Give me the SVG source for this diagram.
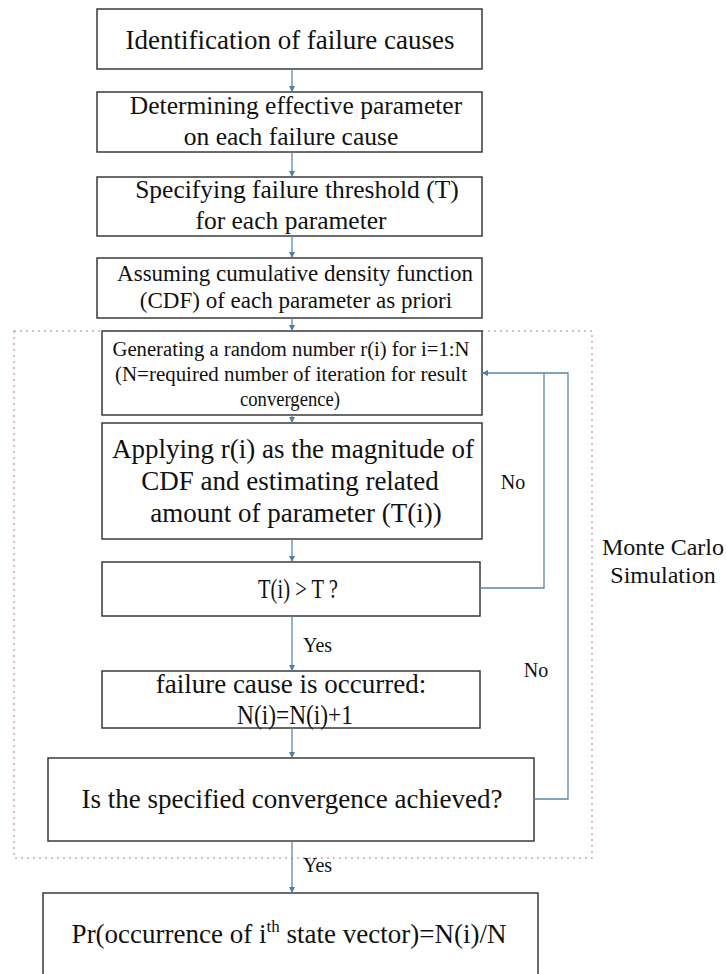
<svg xmlns="http://www.w3.org/2000/svg" width="726" height="974" viewBox="0 0 726 974" font-family="'Liberation Serif', Tinos, 'Times New Roman', serif">
<style>
.box{fill:#fff;stroke:#3a3a3a;stroke-width:1.5}
.t{font-family:'Liberation Serif', Tinos, 'Times New Roman', serif;fill:#111;text-anchor:middle}
.conn{fill:none;stroke:#5b87a8;stroke-width:1.3}
.lbl{font-family:'Liberation Serif', Tinos, 'Times New Roman', serif;fill:#111;font-size:20px}
</style>
<defs>
<marker id="ah" viewBox="0 0 10 10" refX="10" refY="5" markerWidth="6" markerHeight="6" markerUnits="userSpaceOnUse" orient="auto">
<path d="M0,0 L10,5 L0,10 z" fill="#4f7fa3"/>
</marker>
</defs>
<rect width="726" height="974" fill="#fff"/>
<rect id="mc-frame" x="14" y="331" width="578" height="527" fill="none" stroke="#d3a6ae" stroke-width="1.5" stroke-dasharray="2,4"/>
<g id="n1"><rect class="box" x="97" y="9" width="385" height="60"/><text class="t" x="290" y="49" font-size="27">Identification of failure causes</text></g>
<g id="n2"><rect class="box" x="97" y="92" width="385" height="60"/><text class="t" x="296" y="114" font-size="25.5">Determining effective parameter</text><text class="t" x="291" y="145" font-size="25.5">on each failure cause</text></g>
<g id="n3"><rect class="box" x="97" y="177" width="385" height="59"/><text class="t" x="297" y="198" font-size="25.5">Specifying failure threshold (T)</text><text class="t" x="291" y="229" font-size="25.5">for each parameter</text></g>
<g id="n4"><rect class="box" x="97" y="258" width="385" height="60"/><text class="t" x="295" y="281" font-size="23">Assuming cumulative density function</text><text class="t" x="296" y="308" font-size="23">(CDF) of each parameter as priori</text></g>
<g id="n5"><rect class="box" x="102" y="331" width="380" height="84"/><text class="t" x="291" y="356" font-size="20" textLength="357" lengthAdjust="spacingAndGlyphs">Generating a random number r(i) for i=1:N</text><text class="t" x="291" y="381" font-size="20" textLength="352" lengthAdjust="spacingAndGlyphs">(N=required number of iteration for result</text><text class="t" x="290" y="406" font-size="20" textLength="100" lengthAdjust="spacingAndGlyphs">convergence)</text></g>
<g id="n6"><rect class="box" x="102" y="423" width="380" height="116"/><text class="t" x="293" y="458" font-size="27" textLength="362" lengthAdjust="spacingAndGlyphs">Applying r(i) as the magnitude of</text><text class="t" x="290" y="490" font-size="27">CDF and estimating related</text><text class="t" x="296" y="522" font-size="27">amount of parameter (T(i))</text></g>
<g id="n7"><rect class="box" x="102" y="562" width="378" height="54"/><text class="t" x="298" y="598" font-size="27" textLength="80" lengthAdjust="spacingAndGlyphs">T(i) &gt; T ?</text></g>
<g id="n8"><rect class="box" x="102" y="671" width="378" height="57"/><text class="t" x="291" y="693" font-size="27">failure cause is occurred:</text><text class="t" x="295" y="724" font-size="27" textLength="116" lengthAdjust="spacingAndGlyphs">N(i)=N(i)+1</text></g>
<g id="n9"><rect class="box" x="48" y="758" width="486" height="83"/><text class="t" x="292" y="808" font-size="27">Is the specified convergence achieved?</text></g>
<g id="n10"><rect class="box" x="43" y="893" width="495" height="100"/><text class="t" x="289" y="943" font-size="27">Pr(occurrence of i<tspan font-size="17" dy="-11">th</tspan><tspan dy="11"> state vector)=N(i)/N</tspan></text></g>
<g id="mc-label"><text class="t" x="663" y="555" font-size="24">Monte Carlo</text><text class="t" x="663" y="583" font-size="24">Simulation</text></g>
<g id="connectors">
<line class="conn" x1="292" y1="69" x2="292" y2="92" marker-end="url(#ah)"/>
<line class="conn" x1="292" y1="152" x2="292" y2="177" marker-end="url(#ah)"/>
<line class="conn" x1="292" y1="236" x2="292" y2="258" marker-end="url(#ah)"/>
<line class="conn" x1="292" y1="318" x2="292" y2="331" marker-end="url(#ah)"/>
<line class="conn" x1="292" y1="415" x2="292" y2="423" marker-end="url(#ah)"/>
<line class="conn" x1="292" y1="539" x2="292" y2="562" marker-end="url(#ah)"/>
<line class="conn" x1="292" y1="616" x2="292" y2="671" marker-end="url(#ah)"/>
<line class="conn" x1="292" y1="728" x2="292" y2="758" marker-end="url(#ah)"/>
<line class="conn" x1="292" y1="841" x2="292" y2="893" marker-end="url(#ah)"/>
<polyline class="conn" points="480,588 544,588 544,373"/>
<polyline class="conn" points="534,799 568,799 568,373 482,373" marker-end="url(#ah)"/>
<text class="lbl" x="513" y="489" text-anchor="middle">No</text>
<text class="lbl" x="536" y="677" text-anchor="middle">No</text>
<text class="lbl" x="303" y="652">Yes</text>
<text class="lbl" x="303" y="872">Yes</text>
</g>
</svg>
